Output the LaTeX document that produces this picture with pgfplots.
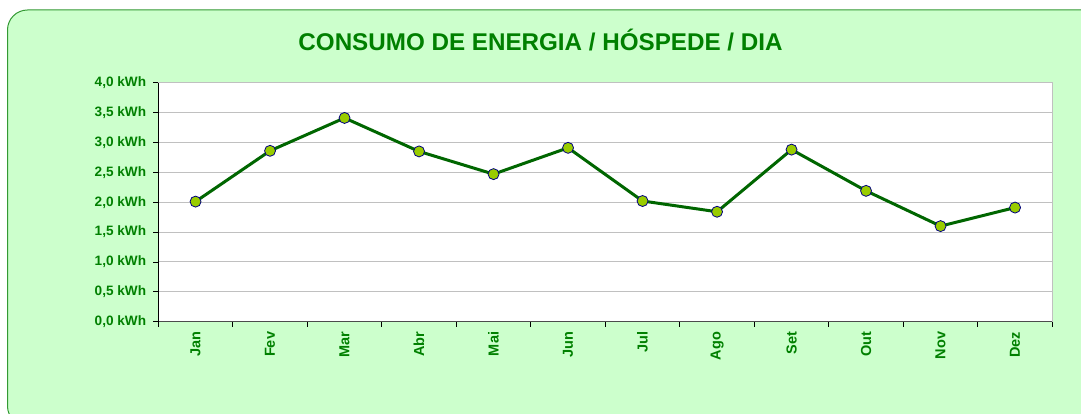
\documentclass[border=0pt]{standalone}
\usepackage{pgfplots}
\pgfplotsset{compat=1.18}
\usepackage{fontspec}
\setmainfont{Liberation Sans}
\definecolor{bg}{HTML}{CCFFCC}
\definecolor{frm}{HTML}{339933}
\definecolor{txt}{HTML}{008000}
\definecolor{ln}{HTML}{006600}
\definecolor{mk}{HTML}{99CC00}
\definecolor{mkb}{HTML}{000080}
\definecolor{grd}{HTML}{C0C0C0}
\begin{document}
\begin{tikzpicture}
\path[use as bounding box] (0bp,0bp) rectangle (1081bp,414bp);
\begin{scope}
\clip (0bp,0bp) rectangle (1081bp,414bp);
\draw[frm, fill=bg, line width=1bp, rounded corners=20bp] (7.5bp,-12bp) rectangle (1110bp,404bp);
\end{scope}
\node[anchor=base, text=txt, inner sep=0pt, font=\fontsize{24.2bp}{28bp}\selectfont\bfseries] at (540.5bp,363bp) {CONSUMO DE ENERGIA / HÓSPEDE / DIA};
\begin{axis}[
  at={(158.3bp,92.3bp)}, anchor=south west,
  scale only axis, width=894bp, height=239bp,
  xmin=-0.5, xmax=11.5, ymin=0, ymax=4,
  axis x line*=bottom, axis y line*=left,
  axis background/.style={fill=white, draw=grd, line width=1bp},
  x axis line style={draw=black!70, line width=1bp},
  y axis line style={draw=black, line width=1bp},
  xtick={-0.5,0.5,...,11.5},
  x tick label as interval,
  xticklabels={Jan,Fev,Mar,Abr,Mai,Jun,Jul,Ago,Set,Out,Nov,Dez},
  ytick={0,0.5,...,4},
  yticklabels={{0,0 kWh},{0,5 kWh},{1,0 kWh},{1,5 kWh},{2,0 kWh},{2,5 kWh},{3,0 kWh},{3,5 kWh},{4,0 kWh}},
  tick align=outside, major tick length=5bp,
  tick style={black, line width=0.8bp},
  ymajorgrids, grid style={grd, line width=1bp},
  yticklabel style={text=txt, font=\fontsize{13.6bp}{16bp}\selectfont\bfseries, inner sep=0pt, xshift=-7bp},
  xticklabel style={text=txt, font=\fontsize{14.5bp}{17bp}\selectfont\bfseries, rotate=90, anchor=east, inner sep=0pt, xshift=-5bp},
  clip=false,
]
\addplot[ln, line width=3bp, mark=*, mark size=5.5bp, mark options={fill=mk, draw=mkb, line width=0.8bp}]
coordinates {(0,2.01) (1,2.86) (2,3.41) (3,2.85) (4,2.47) (5,2.91) (6,2.02) (7,1.84) (8,2.88) (9,2.19) (10,1.60) (11,1.91)};
\end{axis}
\end{tikzpicture}
\end{document}
